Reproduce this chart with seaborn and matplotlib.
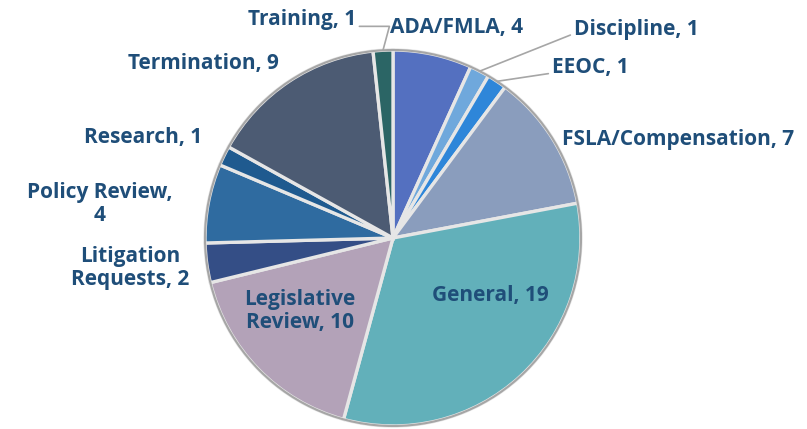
import numpy as np
import matplotlib
matplotlib.use("Agg")
import matplotlib.pyplot as plt
import seaborn as sns

# data
categories = ["ADA/FMLA", "Discipline", "EEOC", "FSLA/Compensation", "General",
              "Legislative Review", "Litigation Requests", "Policy Review",
              "Research", "Termination", "Training"]
counts = [4, 1, 1, 7, 19, 10, 2, 4, 1, 9, 1]
colors = ["#5470C0", "#6FA8DC", "#2E86D9", "#8A9DBD", "#62B0BA", "#B3A2B8",
          "#344E86", "#2F6BA0", "#1F5A8F", "#4C5B73", "#2B6565"]

sns.set_theme(style="white")
plt.rcParams['font.family'] = ['Open Sans', 'DejaVu Sans']

W, H = 807, 429
FS = 15
fig = plt.figure(figsize=(W / 100, H / 100), dpi=100)
ax = fig.add_axes([0, 0, 1, 1])

cx, cy, r = 393, H - 238, 188
wedges, _ = ax.pie(counts, colors=colors, startangle=90, counterclock=False,
                   center=(cx, cy), radius=r, frame=True,
                   wedgeprops=dict(edgecolor="#E6E6E6", linewidth=2.4))
ax.set_xlim(0, W)
ax.set_ylim(0, H)
ax.axis("off")
# outer rim
rim = plt.Circle((cx, cy), r, fill=False, edgecolor="#A6A6A6", linewidth=1.5)
ax.add_patch(rim)

# label layout (pixel positions, y from top) and whether a leader line is drawn
layout = {
    "Training": ((302, 19), True),
    "ADA/FMLA": ((457, 27), False),
    "Discipline": ((636, 29), True),
    "EEOC": ((590, 68), True),
    "FSLA/Compensation": ((678, 140), False),
    "General": ((490, 296), False),
    "Legislative Review": ((300, 311), False),
    "Litigation Requests": ((130, 268), False),
    "Policy Review": ((100, 204), False),
    "Research": ((143, 137), False),
    "Termination": ((203, 63), False),
}
text_of = {
    "Legislative Review": "Legislative\nReview, {}",
    "Litigation Requests": "Litigation\nRequests, {}",
    "Policy Review": "Policy Review,\n{}",
}

total = sum(counts)
cum = np.cumsum([0] + counts)
for i, (cat, val) in enumerate(zip(categories, counts)):
    (tx, ty), leader = layout[cat]
    label = text_of.get(cat, cat + ", {}").format(val)
    mid = (cum[i] + val / 2) / total * 2 * np.pi
    px, py = cx + r * np.sin(mid), cy + r * np.cos(mid)
    if leader:
        if cat == "Training":
            ax.annotate(label, xy=(px, py), xytext=(tx, H - ty), ha="center",
                        va="center", fontsize=FS, fontweight="bold", color="#1F4E79",
                        arrowprops=dict(arrowstyle="-", color="#A6A6A6", lw=1.2,
                                        shrinkA=0, shrinkB=0, relpos=(1.02, 0.15),
                                        connectionstyle="angle,angleA=0,angleB=75,rad=0"))
        else:
            ax.annotate(label, xy=(px, py), xytext=(tx, H - ty), ha="center",
                        va="center", fontsize=FS, fontweight="bold", color="#1F4E79",
                        arrowprops=dict(arrowstyle="-", color="#A6A6A6", lw=1.2,
                                        shrinkA=0, shrinkB=0, relpos=(-0.01, 0.25)))
    else:
        ax.text(tx, H - ty, label, ha="center", va="center", fontsize=FS,
                fontweight="bold", color="#1F4E79", linespacing=1.15)

fig.savefig("out.png", dpi=100)
